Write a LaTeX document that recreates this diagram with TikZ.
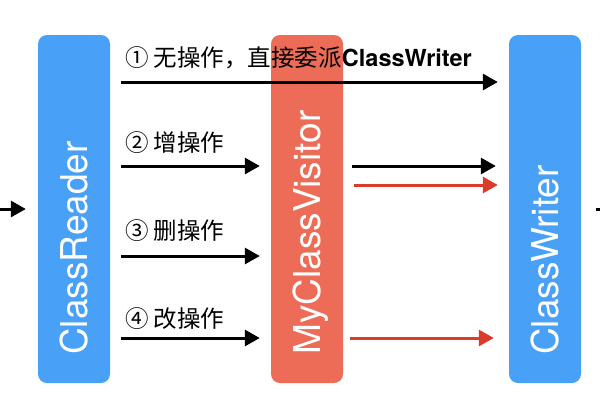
\documentclass[tikz,border=0pt]{standalone}
\usepackage{fontspec}
\setsansfont{TeX Gyre Heros}
\newfontfamily\cjk{Noto Sans CJK SC}
\usetikzlibrary{arrows.meta}
\definecolor{boxblue}{RGB}{72,161,247}
\definecolor{boxred}{RGB}{236,108,87}
\definecolor{arrred}{RGB}{219,60,42}
\tikzset{
  bar/.style={rounded corners=9pt, minimum width=72pt, minimum height=348pt, inner sep=0pt, draw=none},
  bartext/.style={rotate=90, anchor=base west, text=white, inner sep=0pt, font=\sffamily\fontsize{37}{37}\selectfont},
  arr/.style={line width=3pt, -{Triangle[length=15pt,width=16pt]}},
  lab/.style={anchor=west, inner sep=0pt, font=\fontsize{23.5}{24}\selectfont},
}
\begin{document}
\begin{tikzpicture}[x=1pt,y=-1pt]
\useasboundingbox (0,0) rectangle (600,400);
\node[bar, fill=boxblue] (reader) at (74,209) {};
\node[bar, fill=boxred] (visitor) at (307,209) {};
\node[bar, fill=boxblue] (writer) at (545,209) {};
\node[bartext] (readert) at (87,355) {ClassReader};
\node[bartext] (visitort) at (320,355) {MyClassVisitor};
\node[bartext] (writert) at (558,355) {ClassWriter};
% labels
\node[lab] (l1) at (125,58) {\cjk ① 无操作，直接委派\sffamily\bfseries ClassWriter};
\node[lab] (l2) at (125,143) {\cjk ② 增操作};
\node[lab] (l3) at (125,231) {\cjk ③ 删操作};
\node[lab] (l4) at (125,319) {\cjk ④ 改操作};
% arrows
\draw[arr, shorten <=11pt, shorten >=11pt] (reader.east |- 0,82) -- (writer.west |- 0,82);
\draw[arr, shorten <=11pt, shorten >=11pt] (reader.east |- 0,166) -- (visitor.west |- 0,166);
\draw[arr, shorten <=11pt, shorten >=11pt] (reader.east |- 0,256) -- (visitor.west |- 0,256);
\draw[arr, shorten <=11pt, shorten >=11pt] (reader.east |- 0,338) -- (visitor.west |- 0,338);
\draw[arr, shorten <=9pt, shorten >=13pt] (visitor.east |- 0,166) -- (writer.west |- 0,166);
\draw[arr, arrred, shorten <=11pt, shorten >=11pt] (visitor.east |- 0,185) -- (writer.west |- 0,185);
\draw[arr, arrred, shorten <=7pt, shorten >=15pt] (visitor.east |- 0,338) -- (writer.west |- 0,338);
% in / out stubs
\coordinate (inl) at (0,209);
\coordinate (outr) at (600,209);
\draw[arr, shorten >=12pt] (inl) -- (reader.west |- inl);
\draw[line width=3pt, shorten <=15pt] (writer.east |- outr) -- (outr);
\end{tikzpicture}
\end{document}
